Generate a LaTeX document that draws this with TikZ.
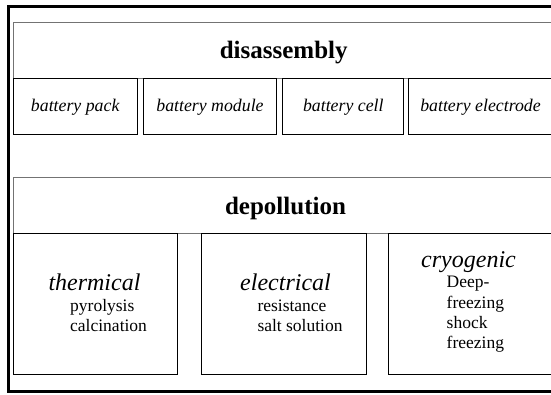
\documentclass[tikz,border=0pt]{standalone}
\usepackage{fontspec}
\setmainfont{Liberation Serif}
\begin{document}
\begin{tikzpicture}[x=1pt,y=-1pt,
  frame/.style={draw=black,line width=3pt},
  rowbox/.style={draw=black!55,line width=0.9pt},
  cellbox/.style={draw=black,line width=0.9pt},
  heading/.style={font=\bfseries\fontsize{25}{30}\selectfont,inner sep=0pt,anchor=base},
  part/.style={font=\itshape\fontsize{17.8}{21}\selectfont,inner sep=0pt,anchor=base},
  kind/.style={font=\itshape\fontsize{24}{28}\selectfont,inner sep=0pt,anchor=base west},
  item/.style={font=\fontsize{17.5}{20}\selectfont,inner sep=0pt,anchor=base west}]
\clip (0,0) rectangle (551,394);
\fill[white] (0,0) rectangle (551,394);
% outer frame (runs on past the right edge)
\draw[frame] (8.5,6.5) rectangle (570,391.5);

% disassembly block
\draw[rowbox] (13.5,22) rectangle (570,78);
\draw[cellbox] (13.5,78) rectangle (137.3,134);
\draw[cellbox] (143,78) rectangle (276.5,134);
\draw[cellbox] (282.5,78) rectangle (403,134);
\draw[cellbox] (408.3,78) rectangle (570,134);
\node[heading] (dis) at (283.7,58.3) {disassembly};
\node[part] (pack) at (75.2,111.7) {battery pack};
\node[part] (module) at (210,111.7) {battery module};
\node[part] (cell) at (343.3,111.7) {battery cell};
\node[part] (electrode) at (480.5,111.7) {battery electrode};

% depollution block
\draw[rowbox] (13.5,177.3) rectangle (570,233);
\draw[cellbox] (13.5,233) rectangle (177.3,374);
\draw[cellbox] (201,233) rectangle (366.3,374);
\draw[cellbox] (388.3,233) rectangle (570,374);
\node[heading] (dep) at (285.5,214) {depollution};

\node[kind] (therm) at (48.3,290) {thermical};
\node[item] (pyro) at (70,311.7) {pyrolysis};
\node[item] (calc) at (70,331.7) {calcination};

\node[kind] (elec) at (240,290) {electrical};
\node[item] (resist) at (257.3,311.7) {resistance};
\node[item] (salt) at (257.3,331.7) {salt solution};

\node[kind] (cryo) at (421,267.3) {cryogenic};
\node[item] (deep) at (446.5,287.7) {Deep-};
\node[item] (freeze) at (446.5,308.3) {freezing};
\node[item] (shock) at (446.5,328.3) {shock};
\node[item] (freeze2) at (446.5,348.3) {freezing};
\end{tikzpicture}
\end{document}
